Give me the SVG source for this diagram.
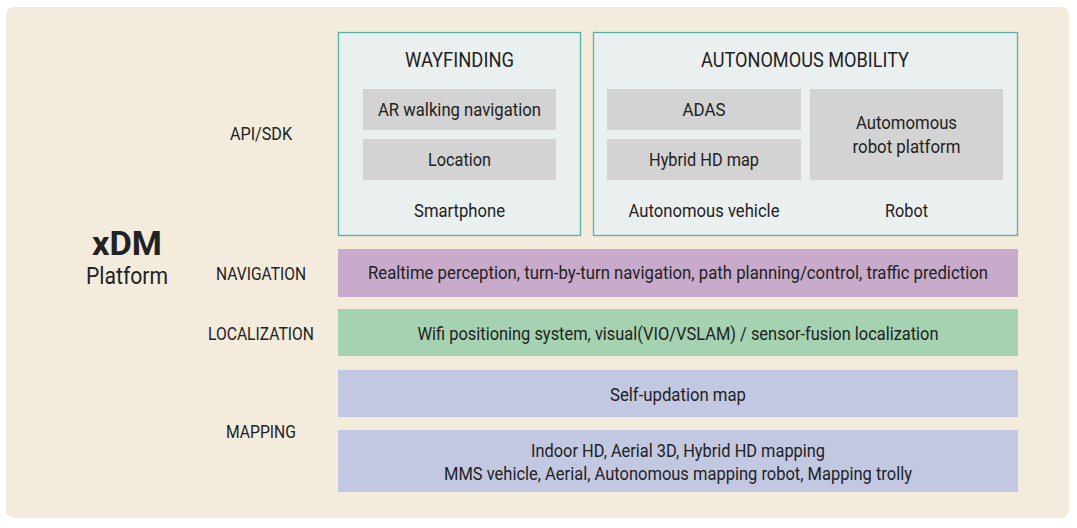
<svg xmlns="http://www.w3.org/2000/svg" width="1077" height="528" viewBox="0 0 1077 528">
<style>
text{font-family:"Roboto","Liberation Sans",sans-serif;fill:#222;text-anchor:middle;font-size:19px}
.t{font-size:21px}
.panel{fill:#eaf0ef;stroke:#5aafa9;stroke-width:1.3}
.g{fill:#d3d3d3}
</style>
<rect x="6" y="7" width="1063" height="511" rx="8" fill="#f3ecdd"/>
<g id="title">
<text x="127" y="255" style="font-size:34px;font-weight:bold" textLength="70" lengthAdjust="spacingAndGlyphs">xDM</text>
<text x="127" y="284" style="font-size:23.5px" textLength="82" lengthAdjust="spacingAndGlyphs">Platform</text>
</g>
<g id="labels">
<text x="261" y="140" textLength="62" lengthAdjust="spacingAndGlyphs">API/SDK</text>
<text x="261" y="280" textLength="90" lengthAdjust="spacingAndGlyphs">NAVIGATION</text>
<text x="261" y="340" textLength="106" lengthAdjust="spacingAndGlyphs">LOCALIZATION</text>
<text x="261" y="438" textLength="70" lengthAdjust="spacingAndGlyphs">MAPPING</text>
</g>
<g id="wayfinding">
<rect class="panel" x="338.5" y="32.5" width="242" height="203"/>
<text class="t" x="459.5" y="66.5" textLength="109" lengthAdjust="spacingAndGlyphs">WAYFINDING</text>
<rect class="g" x="363" y="89" width="193" height="41"/>
<text x="459.5" y="116" textLength="163" lengthAdjust="spacingAndGlyphs">AR walking navigation</text>
<rect class="g" x="363" y="139" width="193" height="41"/>
<text x="459.5" y="165.5" textLength="63" lengthAdjust="spacingAndGlyphs">Location</text>
<text x="459.5" y="216.5" textLength="91" lengthAdjust="spacingAndGlyphs">Smartphone</text>
</g>
<g id="autonomous">
<rect class="panel" x="593.5" y="32.5" width="424" height="203"/>
<text class="t" x="805" y="66.5" textLength="208" lengthAdjust="spacingAndGlyphs">AUTONOMOUS MOBILITY</text>
<rect class="g" x="607" y="89" width="194" height="41"/>
<text x="704" y="116" textLength="43" lengthAdjust="spacingAndGlyphs">ADAS</text>
<rect class="g" x="607" y="139" width="194" height="41"/>
<text x="704" y="165.5" textLength="110" lengthAdjust="spacingAndGlyphs">Hybrid HD map</text>
<rect class="g" x="810" y="89" width="193" height="91"/>
<text x="906.5" y="129" textLength="101" lengthAdjust="spacingAndGlyphs">Automomous</text>
<text x="906.5" y="153" textLength="108" lengthAdjust="spacingAndGlyphs">robot platform</text>
<text x="704" y="216.5" textLength="151" lengthAdjust="spacingAndGlyphs">Autonomous vehicle</text>
<text x="906.5" y="216.5" textLength="43" lengthAdjust="spacingAndGlyphs">Robot</text>
</g>
<g id="navigation">
<rect x="338" y="249" width="680" height="48" fill="#c8aacb"/>
<text x="678" y="279" textLength="620" lengthAdjust="spacingAndGlyphs">Realtime perception, turn-by-turn navigation, path planning/control, traffic prediction</text>
</g>
<g id="localization">
<rect x="338" y="309" width="680" height="47" fill="#a5d2b0"/>
<text x="678" y="340" textLength="521" lengthAdjust="spacingAndGlyphs">Wifi positioning system, visual(VIO/VSLAM) / sensor-fusion localization</text>
</g>
<g id="selfmap">
<rect x="338" y="370" width="680" height="47" fill="#c3c8e2"/>
<text x="678" y="400.5" textLength="136" lengthAdjust="spacingAndGlyphs">Self-updation map</text>
</g>
<g id="mapping">
<rect x="338" y="430" width="680" height="62" fill="#c3c8e2"/>
<text x="678" y="456.5" textLength="294" lengthAdjust="spacingAndGlyphs">Indoor HD, Aerial 3D, Hybrid HD mapping</text>
<text x="678" y="479.5" textLength="468" lengthAdjust="spacingAndGlyphs">MMS vehicle, Aerial, Autonomous mapping robot, Mapping trolly</text>
</g>
<g id="connectors"/>
</svg>
